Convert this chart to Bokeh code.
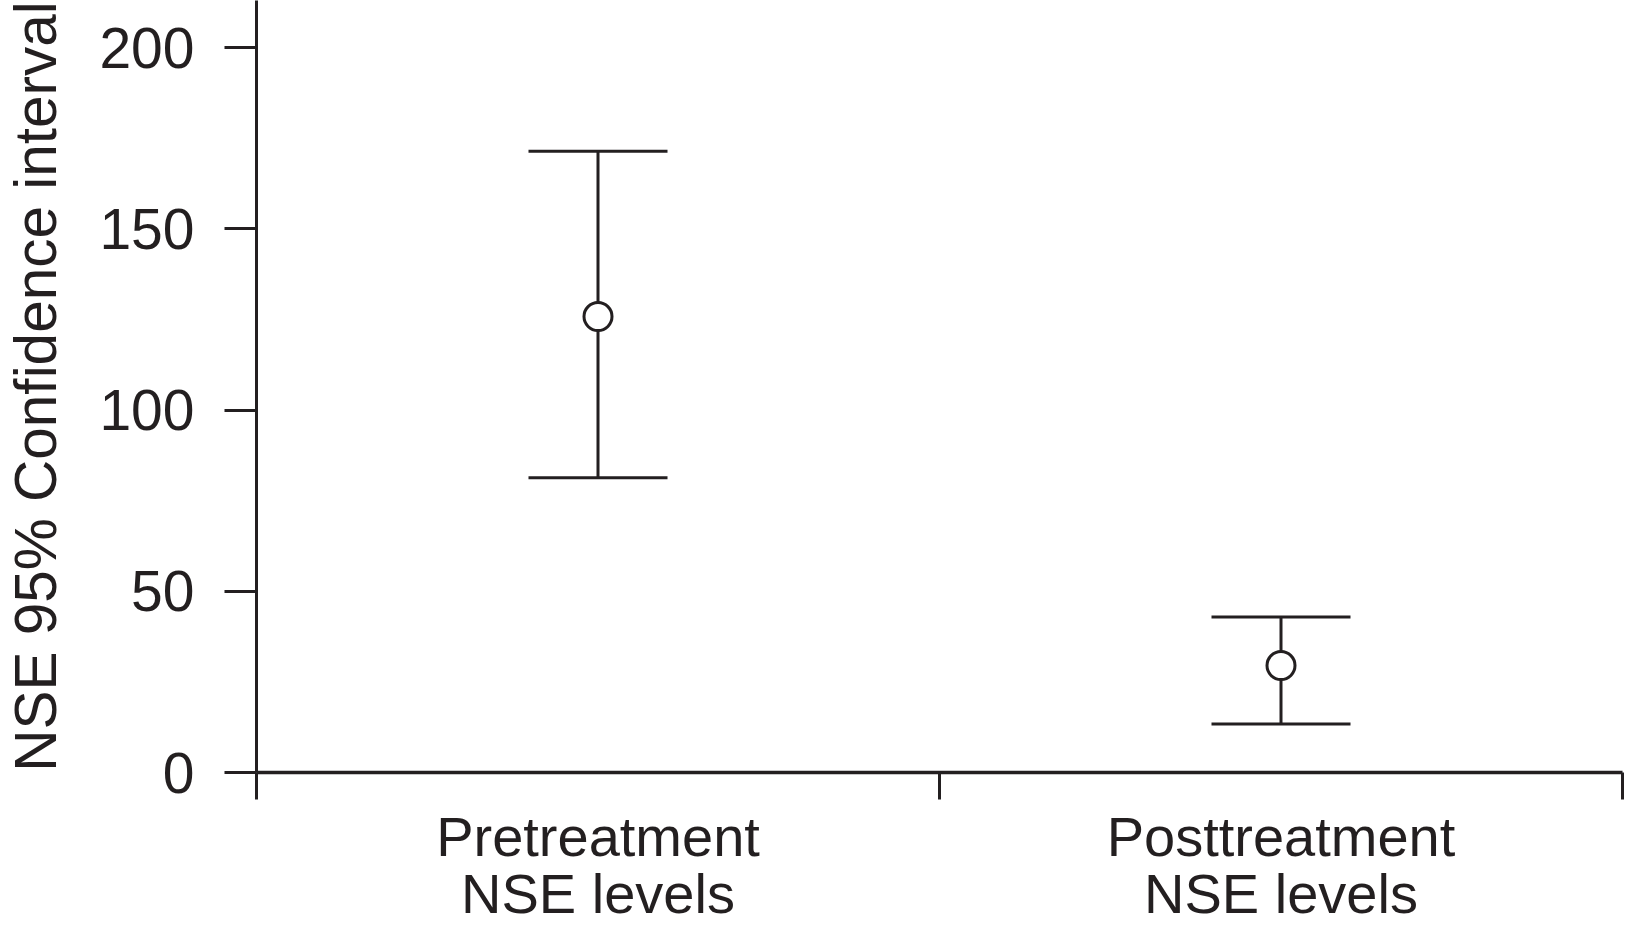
from bokeh.plotting import figure
from bokeh.models import ColumnDataSource, FixedTicker, Range1d, Whisker, TeeHead
from bokeh.embed import file_html
from bokeh.resources import INLINE

# ---- data ----
categories = ["Pretreatment\nNSE levels", "Posttreatment\nNSE levels"]
means = [125.8, 29.5]
lower = [81.3, 13.4]
upper = [171.4, 42.9]
y_ticks = [0, 50, 100, 150, 200]
y_title = "NSE 95% Confidence interval"

INK = "#231f20"
FONT = "Liberation Sans"

x_pos = [i + 0.5 for i in range(len(categories))]
src = ColumnDataSource(dict(x=x_pos, mean=means, lower=lower, upper=upper))

p = figure(
    width=1625, height=937,
    x_range=Range1d(0, len(categories)), y_range=Range1d(0, 213.0),
    output_backend="svg", toolbar_location=None,
    min_border_left=256, min_border_right=3, min_border_top=0, min_border_bottom=165,
    outline_line_color=None, background_fill_color="white", border_fill_color="white",
)
p.xgrid.visible = False
p.ygrid.visible = False

# x axis: labels at category centres, boundary ticks as minor ticks
xa = p.xaxis[0]
xa.ticker = FixedTicker(ticks=x_pos, minor_ticks=list(range(len(categories) + 1)))
xa.major_label_overrides = {xv: c for xv, c in zip(x_pos, categories)}
xa.major_tick_out = 0
xa.major_tick_in = 0
xa.minor_tick_out = 27
xa.minor_tick_in = 0
xa.minor_tick_line_width = 3
xa.minor_tick_line_color = INK
xa.axis_line_width = 3.3
xa.axis_line_color = INK
xa.major_label_text_font = FONT
xa.major_label_text_font_size = "56px"
xa.major_label_text_color = INK
xa.major_label_standoff = 5
xa.major_label_text_line_height = 0.92

# y axis
ya = p.yaxis[0]
ya.ticker = FixedTicker(ticks=y_ticks, minor_ticks=[])
ya.major_tick_out = 32
ya.major_tick_in = 0
ya.major_tick_line_width = 3
ya.major_tick_line_color = INK
ya.minor_tick_out = 0
ya.axis_line_width = 3
ya.axis_line_color = INK
ya.major_label_text_font = FONT
ya.major_label_text_font_size = "57px"
ya.major_label_text_color = INK
ya.major_label_standoff = 30
ya.axis_label = y_title
ya.axis_label_text_font = FONT
ya.axis_label_text_font_size = "58.5px"
ya.axis_label_text_font_style = "normal"
ya.axis_label_text_color = INK
ya.axis_label_standoff = 28

# error bars
w = Whisker(
    base="x", upper="upper", lower="lower", source=src,
    line_color=INK, line_width=3, level="underlay",
    upper_head=TeeHead(size=139, line_width=3, line_color=INK),
    lower_head=TeeHead(size=139, line_width=3, line_color=INK),
)
p.add_layout(w)

p.scatter(x="x", y="mean", source=src, size=28, fill_color="white",
          line_color=INK, line_width=3)

open("out.html", "w").write(file_html(p, INLINE))
